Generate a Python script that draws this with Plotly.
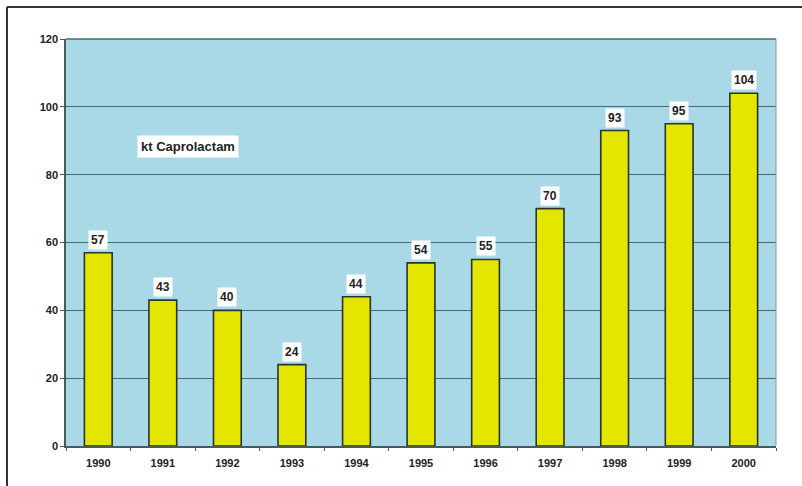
import plotly.graph_objects as go

years = ["1990", "1991", "1992", "1993", "1994", "1995", "1996", "1997", "1998", "1999", "2000"]
values = [57, 43, 40, 24, 44, 54, 55, 70, 93, 95, 104]
y_ticks = [0, 20, 40, 60, 80, 100, 120]
title_text = "kt Caprolactam"

W, H = 802, 486
L, R, T, B = 66, 26, 39, 40
pw, ph = W - L - R, H - T - B

def px_x(p):
    return (p - L) / pw

def px_y(p):
    return (H - B - p) / ph

fig = go.Figure()
fig.add_trace(go.Bar(
    x=years, y=values,
    marker=dict(color="#E3E600", line=dict(color="#2a332d", width=1.6)),
    width=0.43,
))

annotations = []
for i, v in enumerate(values):
    annotations.append(dict(
        x=i, y=v, xref="x", yref="y", text=f"<b>{v}</b>",
        showarrow=False, yanchor="bottom", yshift=3,
        bgcolor="white", borderpad=2,
        font=dict(family="Liberation Sans, Arial", size=12, color="#222"),
    ))
annotations.append(dict(
    x=px_x(137), y=px_y(146), xref="paper", yref="paper", xanchor="left", yanchor="middle",
    text=f"<b>{title_text}</b>", showarrow=False, bgcolor="white", borderpad=3,
    font=dict(family="Liberation Sans, Arial", size=13, color="#222"),
))

shapes = [
    dict(type="line", xref="paper", yref="paper", x0=px_x(7), x1=px_x(810), y0=px_y(7), y1=px_y(7),
         line=dict(color="#333", width=2)),
    dict(type="line", xref="paper", yref="paper", x0=px_x(7), x1=px_x(7), y0=px_y(7), y1=px_y(495),
         line=dict(color="#333", width=2)),
    dict(type="line", xref="paper", yref="paper", x0=1, x1=1, y0=0, y1=1,
         line=dict(color="#7a9aa0", width=1)),
    dict(type="line", xref="paper", yref="paper", x0=0, x1=1, y0=1, y1=1,
         line=dict(color="#4a6a70", width=1.3)),
]

fig.update_layout(
    width=W, height=H,
    margin=dict(l=L, r=R, t=T, b=B),
    paper_bgcolor="white",
    plot_bgcolor="#A9D9E6",
    showlegend=False,
    annotations=annotations,
    shapes=shapes,
    font=dict(family="Liberation Sans, Arial", size=11, color="#222"),
)
fig.update_xaxes(
    type="category", range=[-0.5, len(years) - 0.5], showgrid=False,
    showline=True, linecolor="#4a5a5a", linewidth=1.5,
    ticks="outside", tickson="boundaries", ticklen=3, tickcolor="#4a5a5a",
    ticklabelstandoff=6,
    tickfont=dict(size=11, family="Liberation Sans, Arial", weight="bold"),
)
fig.update_yaxes(
    range=[0, 120], tickvals=y_ticks,
    showgrid=True, gridcolor="#4a6a70", gridwidth=1.3,
    showline=True, linecolor="#4a5a5a", linewidth=1.5,
    ticks="outside", ticklen=4, tickcolor="#4a5a5a",
    tickfont=dict(size=11, family="Liberation Sans, Arial", weight="bold"),
    zeroline=False,
)

fig.write_html("out.html")
